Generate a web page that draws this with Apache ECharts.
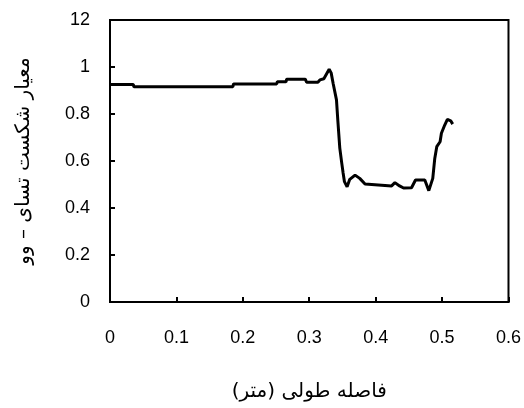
<!DOCTYPE html>
<html>
<head>
<meta charset="utf-8">
<script src="https://cdn.jsdelivr.net/npm/echarts@6/dist/echarts.min.js"></script>
<style>
  html, body { margin: 0; padding: 0; background: #fff; }
  #chart { width: 524px; height: 408px; }
</style>
</head>
<body>
<div id="chart"></div>
<script>
// distance along the sample (m) and failure criterion value
var xValues = [0.000, 0.035, 0.036, 0.185, 0.186, 0.251, 0.252, 0.265, 0.266, 0.294,
  0.296, 0.313, 0.316, 0.322, 0.330, 0.333, 0.336, 0.341, 0.343, 0.346,
  0.349, 0.351, 0.353, 0.357, 0.361, 0.369, 0.376, 0.384, 0.387, 0.424,
  0.429, 0.436, 0.442, 0.454, 0.460, 0.474, 0.480, 0.486, 0.489, 0.492,
  0.497, 0.499, 0.504, 0.508, 0.513, 0.516];
var yValues = [0.926, 0.926, 0.916, 0.916, 0.928, 0.928, 0.937, 0.937, 0.948, 0.948,
  0.935, 0.935, 0.945, 0.950, 0.990, 0.975, 0.930, 0.860, 0.774, 0.655,
  0.590, 0.549, 0.512, 0.490, 0.522, 0.540, 0.526, 0.502, 0.494, 0.494,
  0.508, 0.494, 0.485, 0.486, 0.519, 0.519, 0.474, 0.526, 0.611, 0.661,
  0.682, 0.718, 0.753, 0.777, 0.771, 0.757];

var xTickLabels = ['0', '0.1', '0.2', '0.3', '0.4', '0.5', '0.6'];
var yTickLabels = ['0', '0.2', '0.4', '0.6', '0.8', '1', '12'];

var xTitle = 'فاصله طولی (متر)';
var yTitle = 'معیار شکست تسای – وو';

var points = xValues.map(function (x, i) { return [x, yValues[i]]; });

var chart = echarts.init(document.getElementById('chart'));
var labelFont = {
  color: '#000',
  fontFamily: 'Liberation Sans Narrow, Liberation Sans, sans-serif',
  fontSize: 18
};
var titleFont = { color: '#000', fontFamily: 'DejaVu Sans', fontSize: 20 };

chart.setOption({
  backgroundColor: '#fff',
  animation: false,
  grid: {
    left: 110, right: 15, top: 20, bottom: 106,
    show: true, borderColor: '#000', borderWidth: 2,
    backgroundColor: 'transparent'
  },
  xAxis: {
    type: 'value',
    min: 0, max: 0.6, interval: 0.1,
    name: xTitle,
    nameLocation: 'middle',
    nameGap: 80,
    nameTextStyle: titleFont,
    axisLine: { show: true, lineStyle: { color: '#000', width: 2 } },
    axisTick: { show: true, inside: true, length: 5, lineStyle: { color: '#000', width: 2 } },
    splitLine: { show: false },
    axisLabel: Object.assign({
      margin: 27,
      formatter: function (v) { return xTickLabels[Math.round(v * 10)]; }
    }, labelFont)
  },
  yAxis: {
    type: 'value',
    min: 0, max: 1.2, interval: 0.2,
    name: yTitle,
    nameLocation: 'middle',
    nameGap: 76,
    nameRotate: 90,
    nameTextStyle: titleFont,
    axisLine: { show: true, lineStyle: { color: '#000', width: 2 } },
    axisTick: { show: true, inside: true, length: 5, lineStyle: { color: '#000', width: 2 } },
    splitLine: { show: false },
    axisLabel: Object.assign({
      margin: 20,
      formatter: function (v) { return yTickLabels[Math.round(v * 5)]; }
    }, labelFont)
  },
  series: [{
    type: 'line',
    data: points,
    showSymbol: false,
    lineStyle: { color: '#000', width: 3 }
  }]
});
</script>
</body>
</html>
